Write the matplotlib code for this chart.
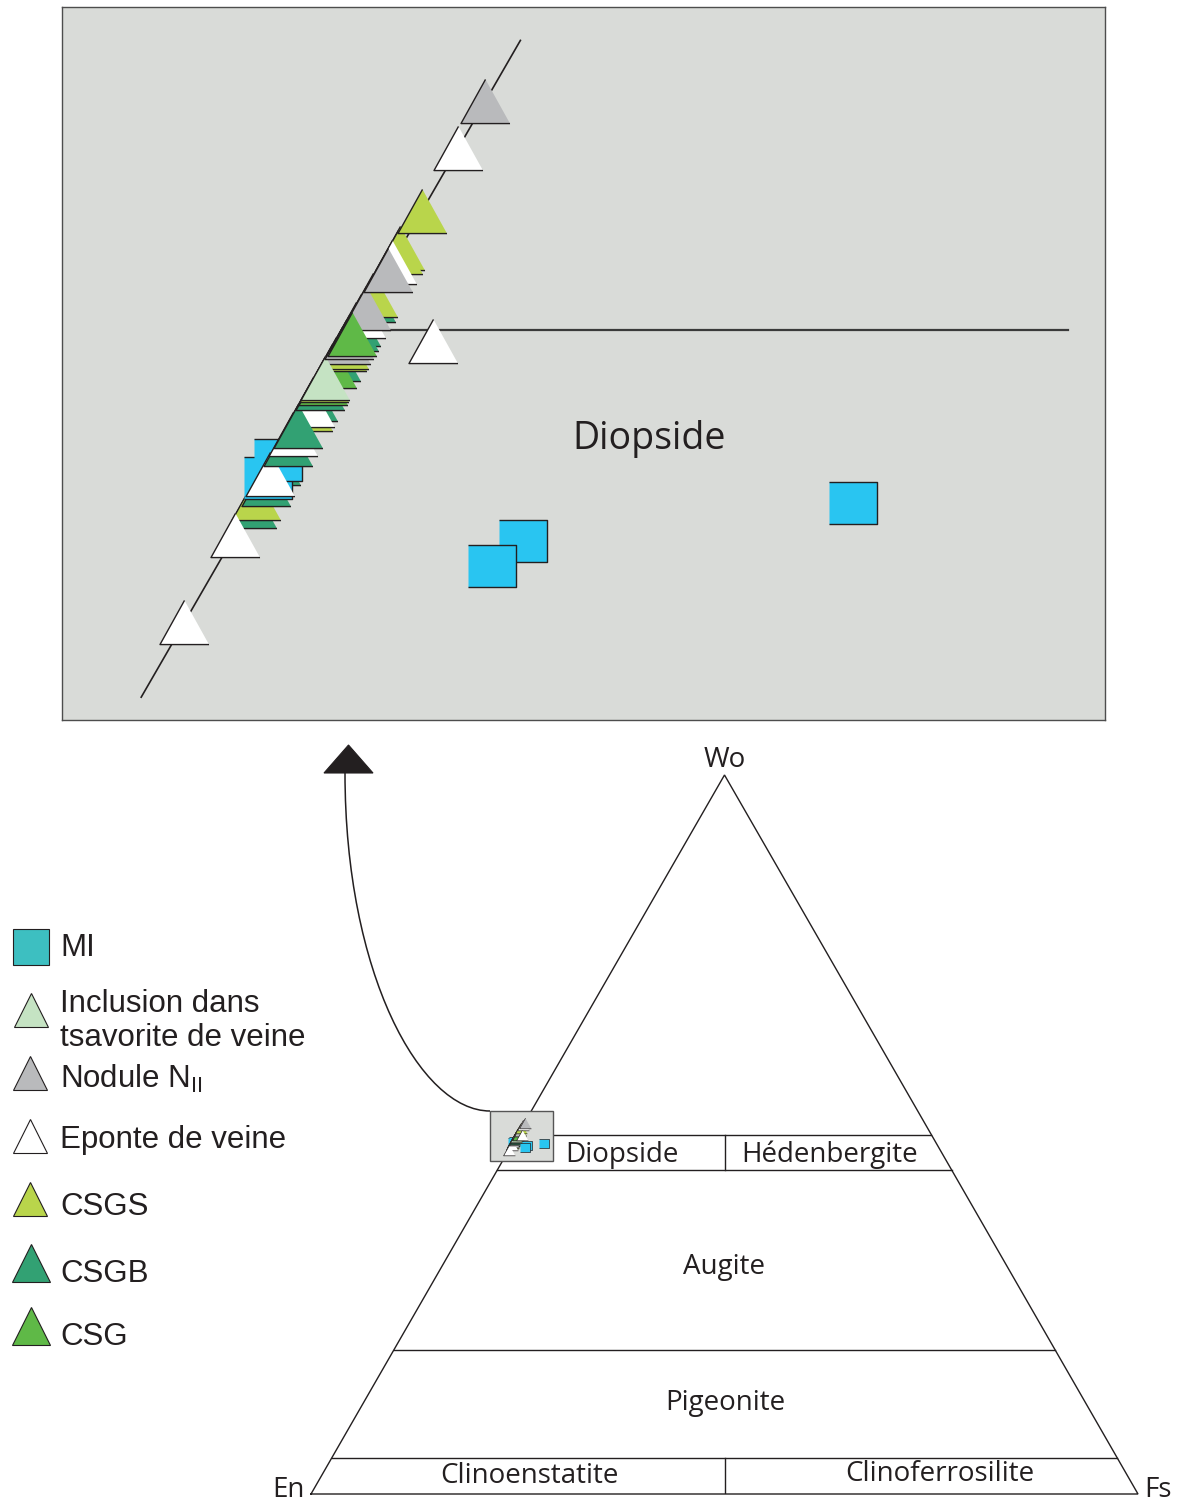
"""
Pyroxene quadrilateral (Wo-En-Fs) with an enlarged view of the
diopside corner near the En-Wo join.
"""
import numpy as np
import matplotlib
matplotlib.use("Agg")  # no display
import matplotlib.pyplot as plt
from matplotlib.path import Path
from matplotlib.patches import PathPatch, Polygon, Rectangle

plt.rcParams["mathtext.fontset"] = "custom"
plt.rcParams["mathtext.rm"] = "Liberation Sans"

W_PX, H_PX = 1181, 1503
SQ3 = np.sqrt(3) / 2

# ---------------------------------------------------------------------------
# Data: clinopyroxene compositions (mol %), listed in drawing order
# ---------------------------------------------------------------------------
sample_group = [
    "CSGB", "CSGS", "CSGB", "CSGB", "MI", "MI", "Eponte", "Eponte", "Eponte",
    "CSGB", "Eponte", "CSGS", "CSGB", "Eponte", "CSGB", "CSGB", "CSG", "CSGS",
    "CSGB", "CSG", "CSGS", "CSGS", "Nodule", "Inclusion", "Nodule", "CSGB",
    "CSGB", "Eponte", "CSGB", "CSGS", "Nodule", "CSG", "CSGS", "CSGS",
    "Eponte", "Nodule", "CSGS", "Eponte", "Nodule", "Eponte", "MI", "MI", "MI",
]
wo = [
    48.73, 48.79, 48.89, 49.04, 48.93, 49.06, 48.96, 48.52, 47.89,
    49.18, 49.25, 49.43, 49.50, 49.46, 49.31, 49.58, 49.62, 49.64,
    49.79, 49.74, 49.86, 49.88, 49.91, 49.65, 49.95, 50.04,
    50.01, 50.10, 50.22, 50.25, 50.16, 49.97, 50.59, 50.56,
    50.49, 50.43, 50.86, 51.31, 51.65, 49.92, 48.75, 48.48, 48.30,
]
en = [
    51.27, 51.21, 51.10, 50.96, 51.07, 50.94, 51.04, 51.48, 52.11,
    50.82, 50.75, 50.57, 50.50, 50.54, 50.69, 50.42, 50.38, 50.36,
    50.21, 50.26, 50.14, 50.12, 50.09, 50.35, 50.05, 49.96,
    49.99, 49.90, 49.78, 49.75, 49.84, 50.02, 49.41, 49.44,
    49.51, 49.57, 49.14, 48.69, 48.35, 49.54, 47.50, 49.70, 49.98,
]
fs = [
    0.00, 0.00, 0.01, 0.00, 0.00, 0.00, 0.00, 0.00, 0.00,
    0.00, 0.00, 0.00, 0.00, 0.00, 0.00, 0.00, 0.00, 0.00,
    0.00, 0.00, 0.00, 0.00, 0.00, 0.00, 0.00, 0.00,
    0.00, 0.00, 0.00, 0.00, 0.00, 0.01, 0.00, 0.00,
    0.00, 0.00, 0.00, 0.00, 0.00, 0.54, 3.75, 1.82, 1.72,
]

# Field boundaries (Wo %) of the pyroxene quadrilateral
wo_bounds = [5, 20, 45, 50]
field_names = ["Diopside", "Hédenbergite", "Augite", "Pigeonite",
               "Clinoenstatite", "Clinoferrosilite"]

legend_keys = ["MI", "Inclusion", "Nodule", "Eponte", "CSGS", "CSGB", "CSG"]
legend_text = ["MI", "Inclusion dans\ntsavorite de veine", r"Nodule N$_{\mathrm{II}}$",
               "Eponte de veine", "CSGS", "CSGB", "CSG"]

# ---------------------------------------------------------------------------
# Styles
# ---------------------------------------------------------------------------
INK = "#231f20"
PANEL = "#d9dbd8"
TRI = [(0, 0.45), (-0.5, -0.45), (0.5, -0.45)]
RECT = [(-0.5, -0.45), (0.5, -0.45), (0.5, 0.45), (-0.5, 0.45)]

_STYLE = {
    "MI": ("#29c5f1", RECT),
    "Inclusion": ("#c5e3c3", TRI),
    "Nodule": ("#b9babc", TRI),
    "Eponte": ("#ffffff", TRI),
    "CSGS": ("#b9d54b", TRI),
    "CSGB": ("#32a173", TRI),
    "CSG": ("#5fb947", TRI),
}
_LEGEND_FILL = {"MI": "#3dbfc1"}


def to_xy(w, e, f):
    w, e, f = (np.asarray(v, dtype=float) for v in (w, e, f))
    t = w + e + f
    return 100 * (f + w / 2) / t, 100 * w * SQ3 / t


def px_box(x0, y0, x1, y1):
    return [x0 / W_PX, 1 - y1 / H_PX, (x1 - x0) / W_PX, (y1 - y0) / H_PX]


def draw_samples(ax, tri_ms, sq_ms, mew):
    xs, ys = to_xy(wo, en, fs)
    for i, (g, x, y) in enumerate(zip(sample_group, xs, ys)):
        color, verts = _STYLE[g]
        ms = sq_ms if g == "MI" else tri_ms
        ax.plot([x], [y], linestyle="none", marker=verts, ms=ms,
                mfc=color, mec=INK, mew=mew, zorder=5 + i * 0.01)


fig = plt.figure(figsize=(W_PX / 100, H_PX / 100), dpi=100)

# ---------------------------------------------------------------------------
# Main triangle
# ---------------------------------------------------------------------------
ax = fig.add_axes(px_box(311, 775, 1138, 1494))
ax.set_xlim(0, 100)
ax.set_ylim(0, 100 * SQ3)
ax.axis("off")
ax.plot([0, 100, 50, 0], [0, 0, 100 * SQ3, 0], color=INK, lw=1.0,
        solid_joinstyle="miter", clip_on=False, zorder=2)
for w in wo_bounds:
    ax.plot([w / 2, 100 - w / 2], [w * SQ3, w * SQ3], color=INK, lw=1.0, zorder=2)
ax.plot([50, 50], [0, 5 * SQ3], color=INK, lw=1.0, zorder=2)
ax.plot([50, 50], [45 * SQ3, 50 * SQ3], color=INK, lw=1.0, zorder=2)
ax.add_patch(Rectangle((21.64, 40.1), 7.62, 6.03, facecolor=PANEL,
                       edgecolor="#555555", lw=1.0, zorder=3))
draw_samples(ax, tri_ms=8.5, sq_ms=7.2, mew=0.5)

# ---------------------------------------------------------------------------
# Enlarged view
# ---------------------------------------------------------------------------
axz = fig.add_axes(px_box(62, 7, 1105, 720))
axz.set_xlim(23.18, 23.18 + 1043 / 160)
axz.set_ylim(45.32 - 713 / 160, 45.32)
axz.set_facecolor(PANEL)
axz.set_xticks([])
axz.set_yticks([])
for sp in axz.spines.values():
    sp.set_color("#4d4d4d")
    sp.set_linewidth(1.0)

jx, jy = to_xy([47.35, 52.09], [52.65, 47.91], [0, 0])
axz.plot(jx, jy, color=INK, lw=1.2, zorder=2)
hx, hy = to_xy([50, 50], [50, 45.53], [0, 4.47])
axz.plot(hx, hy, color="#3a3a3a", lw=1.6, zorder=2)
draw_samples(axz, tri_ms=35.3, sq_ms=34.0, mew=1.0)

# ---------------------------------------------------------------------------
# Overlay: labels, arrow, legend (pixel coordinates)
# ---------------------------------------------------------------------------
ov = fig.add_axes([0, 0, 1, 1], zorder=10)
ov.set_xlim(0, W_PX)
ov.set_ylim(H_PX, 0)
ov.axis("off")
ov.patch.set_visible(False)

lab = dict(family="Open Sans", fontsize=20, color=INK, ha="center", va="baseline")
ov.text(725, 767, "Wo", **lab)
ov.text(288, 1497, "En", **lab)
ov.text(1158, 1497, "Fs", **lab)
for name, (x, y) in zip(field_names, [(622, 1162), (830, 1162), (724, 1274),
                                      (725, 1410), (529, 1483), (940, 1481)]):
    ov.text(x, y, name, **lab)
ov.text(649, 449, "Diopside", family="Open Sans", fontsize=27, color=INK,
        ha="center", va="baseline")

curve = Path([(490, 1111), (420, 1111), (345, 973), (345, 773)],
             [Path.MOVETO, Path.CURVE4, Path.CURVE4, Path.CURVE4])
ov.add_patch(PathPatch(curve, facecolor="none", edgecolor=INK, lw=1.1))
ov.add_patch(Polygon([(324, 773), (373, 773), (348.5, 745)], closed=True,
                     facecolor=INK, edgecolor=INK, lw=0.8))

leg_marker = [(30.5, 946.8, "s", 25.6), (30.7, 1009.7, "^", 23.8),
              (30.3, 1073, "^", 23.8), (30.3, 1136.3, "^", 23.8),
              (30.3, 1199.3, "^", 23.8), (30.8, 1262.5, "^", 27.6),
              (30.8, 1326.3, "^", 27.6)]
leg_base = [956.5, 1046, 1088, 1148, 1215, 1281.5, 1345]
for key, text, (mx, my, mk, ms), yb in zip(legend_keys, legend_text, leg_marker, leg_base):
    fill = _LEGEND_FILL.get(key, _STYLE[key][0])
    ov.plot([mx], [my], linestyle="none", marker=mk, ms=ms, mfc=fill,
            mec=INK, mew=0.8)
    ov.text(60, yb, text, family="Liberation Sans", fontsize=22.5, color=INK,
            ha="left", va="baseline", linespacing=1.17)

fig.savefig("out.png", dpi=100, facecolor="white")
